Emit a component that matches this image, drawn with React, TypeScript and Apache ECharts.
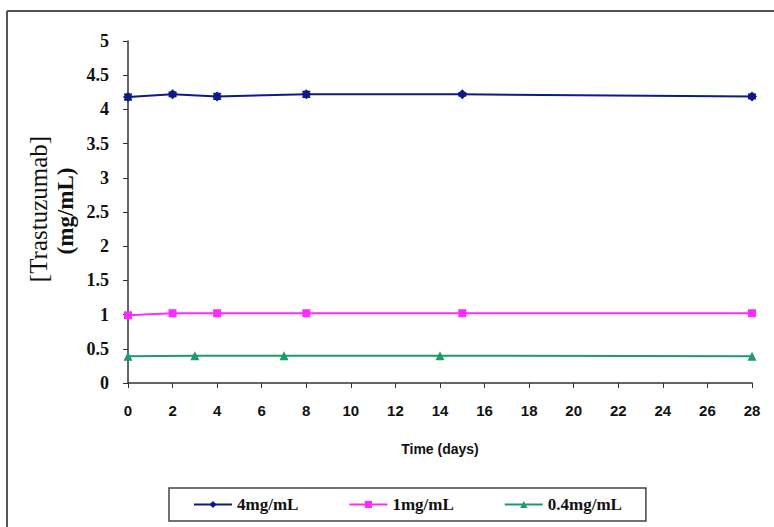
import React, { useEffect, useRef } from "react";
import * as echarts from "echarts";

const xTicks = [0, 2, 4, 6, 8, 10, 12, 14, 16, 18, 20, 22, 24, 26, 28];
const yTicks = [0, 0.5, 1, 1.5, 2, 2.5, 3, 3.5, 4, 4.5, 5];

const days4 = [0, 2, 4, 8, 15, 28];
const vals4 = [4.18, 4.22, 4.19, 4.22, 4.22, 4.19];
const err4 = [0.04, 0.03, 0.04, 0.04, 0.02, 0.03];

const days1 = [0, 2, 4, 8, 15, 28];
const vals1 = [0.99, 1.02, 1.02, 1.02, 1.02, 1.02];

const days04 = [0, 3, 7, 14, 28];
const vals04 = [0.39, 0.4, 0.4, 0.4, 0.39];

const names = ["4mg/mL", "1mg/mL", "0.4mg/mL"];
const colors = ["#0c1a8a", "#ff2bff", "#1f9a6a"];

const zip = (xs: number[], ys: number[]) => xs.map((x, i) => [x, ys[i]]);

export default function App() {
  const ref = useRef<HTMLDivElement>(null);
  useEffect(() => {
    const chart = echarts.init(ref.current!, null, { renderer: "svg" });
    const serif = "Liberation Serif";
    const sans = "Liberation Sans";
    chart.setOption({
      animation: false,
      backgroundColor: "#fff",
      grid: { left: 128, right: 22, top: 41, bottom: 144 },
      xAxis: {
        type: "value",
        min: 0,
        max: 28,
        interval: 2,
        splitLine: { show: false },
        axisLine: { lineStyle: { color: "#333", width: 1.5 } },
        axisTick: { show: true, length: 5, lineStyle: { color: "#333" } },
        axisLabel: {
          color: "#111",
          fontFamily: sans,
          fontWeight: "bold",
          fontSize: 15,
          margin: 20,
          formatter: (v: number) => (xTicks.includes(v) ? String(v) : ""),
        },
      },
      yAxis: {
        type: "value",
        min: 0,
        max: 5,
        interval: 0.5,
        splitLine: { show: false },
        axisLine: { show: true, lineStyle: { color: "#333", width: 1.5 } },
        axisTick: { show: true, length: 5, lineStyle: { color: "#333" } },
        axisLabel: {
          color: "#111",
          fontFamily: serif,
          fontWeight: "bold",
          fontSize: 18,
          margin: 19,
          formatter: (v: number) => (yTicks.includes(v) ? String(v) : ""),
        },
      },
      legend: {
        bottom: 6,
        left: 169,
        width: 481,
        itemWidth: 38,
        itemHeight: 9,
        itemGap: 50,
        padding: [8, 24, 8, 24],
        borderColor: "#444",
        borderWidth: 1.5,
        data: names,
        textStyle: { fontFamily: serif, fontWeight: "bold", fontSize: 17, color: "#111" },
      },
      graphic: [
        {
          type: "line",
          shape: { x1: 7, y1: 11, x2: 774, y2: 11 },
          style: { stroke: "#555", lineWidth: 2 },
        },
        {
          type: "line",
          shape: { x1: 7, y1: 11, x2: 7, y2: 527 },
          style: { stroke: "#555", lineWidth: 2 },
        },
        {
          type: "text",
          x: 38,
          y: 209,
          rotation: Math.PI / 2,
          style: {
            text: "[Trastuzumab]",
            fontFamily: serif,
            fontSize: 25,
            fill: "#111",
            align: "center",
            verticalAlign: "middle",
          },
        },
        {
          type: "text",
          x: 65,
          y: 211,
          rotation: Math.PI / 2,
          style: {
            text: "(mg/mL)",
            fontFamily: serif,
            fontWeight: "bold",
            fontSize: 23,
            fill: "#111",
            align: "center",
            verticalAlign: "middle",
          },
        },
        {
          type: "text",
          x: 440,
          y: 449,
          style: {
            text: "Time (days)",
            fontFamily: sans,
            fontWeight: "bold",
            fontSize: 14,
            fill: "#111",
            align: "center",
            verticalAlign: "middle",
          },
        },
      ],
      series: [
        {
          name: names[0],
          type: "line",
          data: zip(days4, vals4),
          symbol: "diamond",
          symbolSize: 10,
          lineStyle: { color: colors[0], width: 2 },
          itemStyle: { color: colors[0] },
          z: 3,
        },
        {
          name: names[1],
          type: "line",
          data: zip(days1, vals1),
          symbol: "rect",
          symbolSize: 8,
          lineStyle: { color: colors[1], width: 2 },
          itemStyle: { color: colors[1] },
        },
        {
          name: names[2],
          type: "line",
          data: zip(days04, vals04),
          symbol: "triangle",
          symbolSize: 9,
          lineStyle: { color: colors[2], width: 2 },
          itemStyle: { color: colors[2] },
        },
        {
          type: "custom",
          name: "err",
          data: days4.map((d, i) => [d, vals4[i] - err4[i], vals4[i] + err4[i]]),
          renderItem: (params: any, api: any) => {
            const x = api.value(0);
            const lo = api.coord([x, api.value(1)]);
            const hi = api.coord([x, api.value(2)]);
            const w = 4;
            const st = { stroke: colors[0], lineWidth: 1.8 };
            return {
              type: "group",
              children: [
                { type: "line", shape: { x1: lo[0], y1: lo[1], x2: hi[0], y2: hi[1] }, style: st },
                { type: "line", shape: { x1: lo[0] - w, y1: lo[1], x2: lo[0] + w, y2: lo[1] }, style: st },
                { type: "line", shape: { x1: hi[0] - w, y1: hi[1], x2: hi[0] + w, y2: hi[1] }, style: st },
              ],
            };
          },
          z: 4,
        },
      ],
    });
    return () => chart.dispose();
  }, []);
  return <div ref={ref} style={{ width: 774, height: 527, position: "absolute", left: 0, top: 0 }} />;
}
